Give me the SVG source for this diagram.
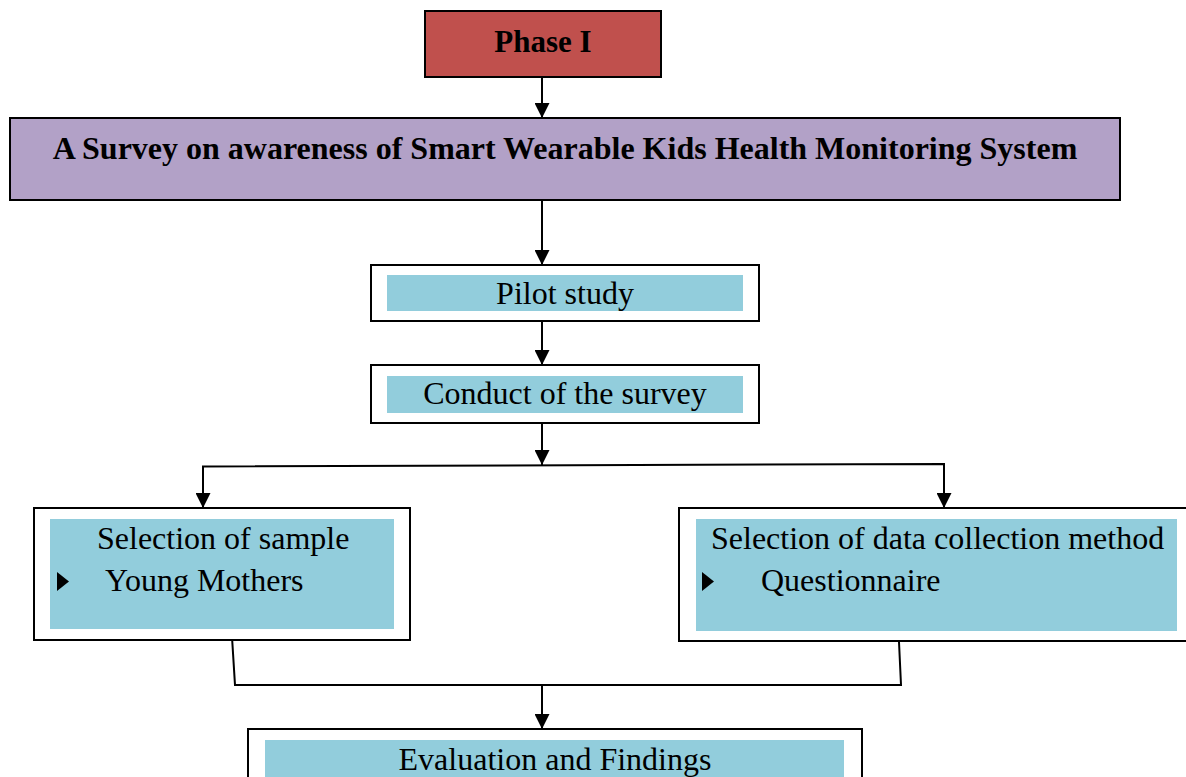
<svg xmlns="http://www.w3.org/2000/svg" width="1186" height="777" viewBox="0 0 1186 777">
<defs>
<style>
.t{font-family:"Liberation Serif","Times New Roman",serif;font-size:32px;fill:#000}
.b{font-weight:bold}
.frame{fill:#fff;stroke:#000;stroke-width:2}
.inner{fill:#92CDDC}
.conn{fill:none;stroke:#000;stroke-width:2}
</style>
<marker id="ah" markerWidth="15" markerHeight="15" refX="15" refY="7.5" orient="auto" markerUnits="userSpaceOnUse">
<path d="M0,0 L15,7.5 L0,15 Z" fill="#000"/>
</marker>
</defs>
<rect width="1186" height="777" fill="#fff"/>
<g id="connectors">
<line class="conn" x1="542" y1="77" x2="542" y2="118" marker-end="url(#ah)"/>
<line class="conn" x1="542" y1="200" x2="542" y2="265" marker-end="url(#ah)"/>
<line class="conn" x1="542" y1="322" x2="542" y2="365" marker-end="url(#ah)"/>
<line class="conn" x1="542" y1="423" x2="542" y2="465" marker-end="url(#ah)"/>
<polyline class="conn" points="203,508 203,466.5 944,464 944,508"/>
<line class="conn" x1="203" y1="480" x2="203" y2="508" marker-end="url(#ah)"/>
<line class="conn" x1="944" y1="480" x2="944" y2="508" marker-end="url(#ah)"/>
<polyline class="conn" points="232,637 235,685 901,685 899,642"/>
<line class="conn" x1="542" y1="685" x2="542" y2="729" marker-end="url(#ah)"/>
</g>
<g id="phase1">
<rect x="425" y="11" width="236" height="66" fill="#C0504D" stroke="#000" stroke-width="2"/>
<text class="t b" x="543" y="52" text-anchor="middle" style="font-size:31px">Phase I</text>
</g>
<g id="survey">
<rect x="10" y="118" width="1110" height="82" fill="#B2A1C7" stroke="#000" stroke-width="2"/>
<text class="t b" x="565" y="159" text-anchor="middle">A Survey on awareness of Smart Wearable Kids Health Monitoring System</text>
</g>
<g id="pilot">
<rect class="frame" x="371" y="265" width="388" height="56"/>
<rect class="inner" x="387" y="275" width="356" height="36"/>
<text class="t" x="565" y="304" text-anchor="middle">Pilot study</text>
</g>
<g id="conduct">
<rect class="frame" x="371" y="365" width="388" height="58"/>
<rect class="inner" x="387" y="376" width="356" height="37"/>
<text class="t" x="565" y="404" text-anchor="middle">Conduct of the survey</text>
</g>
<g id="sample">
<rect class="frame" x="34" y="508" width="376" height="132"/>
<rect class="inner" x="50" y="519" width="344" height="110"/>
<text class="t" x="97" y="549">Selection of sample</text>
<path d="M57,572 L69,581.5 L57,591 Z" fill="#000"/>
<text class="t" x="105" y="591">Young Mothers</text>
</g>
<g id="method">
<rect class="frame" x="679" y="508" width="520" height="133"/>
<rect class="inner" x="696" y="519" width="481" height="112"/>
<text class="t" x="711" y="549">Selection of data collection method</text>
<path d="M702,572 L714,581.5 L702,591 Z" fill="#000"/>
<text class="t" x="761" y="591">Questionnaire</text>
</g>
<g id="evaluation">
<rect class="frame" x="248" y="729" width="614" height="60"/>
<rect class="inner" x="265" y="740" width="579" height="40"/>
<text class="t" x="555" y="770" text-anchor="middle">Evaluation and Findings</text>
</g>
</svg>
